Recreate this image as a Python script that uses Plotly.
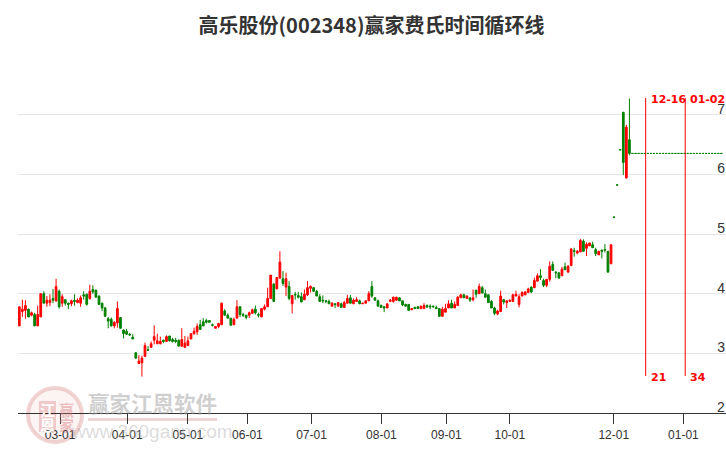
import plotly.graph_objects as go

title_text = "高乐股份(002348)赢家费氏时间循环线"
month_ticks = [13.3, 35.2, 55.0, 74.4, 95.3, 118.1, 139.3, 160.0, 193.9, 216.6]
month_labels = ["03-01", "04-01", "05-01", "06-01", "07-01", "08-01", "09-01", "10-01", "12-01", "01-01"]
price_ticks = [2, 3, 4, 5, 6, 7, 8]
price_labels = ["", "3", "4", "5", "6", "7", ""]
bottom_price_label = "2"

directions = ("RRRGRGRRGR" "RGRGRGGRGR" "RGGRGGGGGG" "GRRGGGGGGR" "RRGRRRRGRG" "GGGRRRRRRG" "GGGGRRRGGG"
              "RRGGGRRGGR" "RRRGRRGRGR" "GGGRRRGGGG" "GGRGRGRRGR" "RGRRRGGGGG" "RRRRGGGGRG" "GRRGGGGGRR"
              "RGRRRGRGRG" "RGGGGGRRGR" "RRRRRRRGRR" "GGRRGGGRGR" "RGRRGRRGGR" "GGGRGGGGRG")

highs = [3.78,3.90,3.89,3.75,3.70,3.68,3.80,4.00,4.04,3.96,
         3.99,4.08,4.25,4.07,3.99,3.90,3.85,3.90,3.99,3.92,
         3.97,4.04,4.00,4.15,4.14,4.06,3.97,3.85,3.78,3.61,
         3.60,3.54,3.87,3.60,3.40,3.41,3.34,3.32,3.02,2.97,
         2.96,3.18,3.12,3.20,3.47,3.33,3.28,3.23,3.30,3.29,
         3.26,3.26,3.23,3.42,3.29,3.28,3.33,3.43,3.50,3.56,
         3.59,3.58,3.55,3.50,3.45,3.51,3.85,3.74,3.67,3.59,
         3.60,3.89,3.79,3.68,3.64,3.70,3.75,3.80,3.68,3.75,
         3.82,4.10,4.31,4.18,4.27,4.71,4.38,4.35,4.21,3.98,
         4.03,4.03,4.02,4.07,4.21,4.14,4.11,4.06,3.99,3.97,
         3.89,3.90,3.86,3.84,3.85,3.85,3.88,3.98,3.98,3.92,
         3.94,3.90,3.84,3.89,4.04,4.21,3.94,3.90,3.82,3.79,
         3.83,3.91,3.95,3.95,3.94,3.88,3.83,3.82,3.75,3.78,
         3.79,3.80,3.84,3.82,3.82,3.80,3.80,3.75,3.78,3.83,
         3.89,3.90,3.87,3.96,4.00,4.00,3.97,3.93,4.07,4.06,
         4.17,4.13,4.07,3.99,3.89,3.78,3.73,4.05,3.90,3.89,
         3.90,4.00,4.05,3.99,4.04,4.04,4.10,4.12,4.27,4.34,
         4.41,4.25,4.24,4.54,4.54,4.38,4.35,4.45,4.52,4.48,
         4.76,4.77,4.73,4.92,4.91,4.86,4.85,4.87,4.77,4.72,
         4.74,4.83,4.71,4.82,5.29,5.83,6.42,7.04,6.83,7.27]

body_tops = [3.78,3.74,3.80,3.74,3.68,3.65,3.65,4.00,4.00,3.89,
             3.89,3.92,4.12,4.04,3.95,3.90,3.84,3.88,3.89,3.89,
             3.93,3.98,3.99,4.04,4.07,4.06,3.96,3.84,3.76,3.58,
             3.57,3.52,3.75,3.60,3.39,3.37,3.32,3.27,3.01,2.87,
             2.92,3.13,3.06,3.16,3.28,3.21,3.20,3.22,3.28,3.29,
             3.23,3.22,3.22,3.23,3.17,3.21,3.33,3.37,3.45,3.48,
             3.53,3.55,3.55,3.48,3.45,3.50,3.84,3.71,3.64,3.59,
             3.57,3.78,3.78,3.65,3.64,3.68,3.73,3.74,3.65,3.75,
             3.78,3.92,4.31,4.16,4.27,4.53,4.25,4.25,4.12,3.97,
             3.99,3.97,3.95,3.99,4.10,4.12,4.10,4.04,3.95,3.89,
             3.88,3.87,3.84,3.83,3.85,3.83,3.85,3.92,3.93,3.89,
             3.90,3.88,3.84,3.88,4.00,4.12,3.93,3.88,3.80,3.78,
             3.83,3.89,3.94,3.94,3.93,3.88,3.82,3.82,3.75,3.77,
             3.78,3.79,3.80,3.80,3.79,3.79,3.77,3.75,3.74,3.75,
             3.83,3.84,3.82,3.94,3.98,3.98,3.96,3.93,3.93,4.06,
             4.12,4.10,4.00,3.98,3.87,3.76,3.71,3.96,3.90,3.88,
             3.89,3.98,3.99,3.95,4.02,4.03,4.08,4.11,4.22,4.30,
             4.30,4.22,4.24,4.46,4.49,4.36,4.35,4.41,4.45,4.46,
             4.75,4.72,4.71,4.89,4.88,4.83,4.85,4.82,4.74,4.71,
             4.73,4.74,4.71,4.82,5.285,5.825,6.415,7.04,6.79,6.58]

body_bottoms = [3.46,3.70,3.72,3.61,3.64,3.46,3.46,3.61,3.84,3.84,
                3.85,3.89,3.88,3.78,3.84,3.84,3.82,3.83,3.87,3.85,
                3.84,3.96,3.82,3.92,4.03,3.94,3.82,3.76,3.62,3.54,
                3.46,3.46,3.51,3.42,3.33,3.32,3.31,3.24,2.92,2.83,
                2.84,2.95,3.05,3.10,3.22,3.16,3.16,3.20,3.20,3.21,
                3.20,3.20,3.12,3.12,3.10,3.13,3.24,3.33,3.36,3.40,
                3.46,3.52,3.52,3.47,3.42,3.45,3.48,3.64,3.59,3.47,
                3.48,3.59,3.65,3.64,3.60,3.64,3.67,3.68,3.64,3.61,
                3.74,3.78,3.92,3.87,4.08,4.26,4.17,4.11,3.92,3.83,
                3.98,3.94,3.86,3.90,3.98,4.09,4.04,3.96,3.87,3.88,
                3.87,3.83,3.79,3.82,3.79,3.77,3.77,3.84,3.84,3.83,
                3.87,3.83,3.83,3.84,3.88,3.96,3.89,3.79,3.77,3.76,
                3.76,3.87,3.87,3.89,3.88,3.81,3.79,3.72,3.73,3.75,
                3.75,3.75,3.75,3.78,3.78,3.78,3.75,3.62,3.62,3.69,
                3.76,3.76,3.76,3.80,3.93,3.93,3.92,3.89,3.90,3.99,
                4.00,4.01,3.94,3.85,3.76,3.67,3.66,3.70,3.86,3.85,
                3.87,3.87,3.96,3.82,3.96,3.98,4.02,4.03,4.10,4.21,
                4.27,4.14,4.14,4.24,4.39,4.35,4.26,4.30,4.40,4.36,
                4.47,4.71,4.68,4.70,4.71,4.76,4.80,4.77,4.67,4.65,
                4.71,4.73,4.36,4.50,5.28,5.82,6.41,6.20,5.94,6.35]

lows = [3.46,3.61,3.58,3.61,3.62,3.46,3.46,3.61,3.84,3.78,
        3.79,3.84,3.86,3.75,3.78,3.80,3.74,3.79,3.80,3.84,
        3.78,3.90,3.80,3.90,4.00,3.94,3.82,3.71,3.62,3.42,
        3.45,3.42,3.43,3.42,3.25,3.31,3.29,3.24,2.91,2.82,
        2.61,2.95,3.05,3.10,3.15,3.16,3.15,3.17,3.19,3.20,
        3.18,3.17,3.12,3.11,3.10,3.13,3.24,3.31,3.31,3.40,
        3.46,3.50,3.52,3.45,3.42,3.42,3.48,3.64,3.59,3.47,
        3.47,3.59,3.61,3.61,3.57,3.59,3.67,3.65,3.60,3.61,
        3.72,3.78,3.92,3.87,4.08,4.26,4.13,3.96,3.89,3.67,
        3.90,3.92,3.86,3.89,3.96,4.02,4.04,3.96,3.87,3.84,
        3.84,3.83,3.79,3.76,3.79,3.76,3.77,3.84,3.84,3.83,
        3.87,3.83,3.83,3.84,3.88,3.93,3.89,3.79,3.77,3.69,
        3.76,3.87,3.85,3.89,3.88,3.79,3.79,3.72,3.73,3.74,
        3.75,3.75,3.75,3.76,3.74,3.77,3.74,3.62,3.62,3.69,
        3.76,3.76,3.76,3.80,3.93,3.93,3.92,3.86,3.87,3.93,
        4.00,4.01,3.94,3.85,3.76,3.64,3.64,3.70,3.82,3.76,
        3.87,3.87,3.96,3.77,3.96,3.98,4.02,4.01,4.10,4.21,
        4.23,4.11,4.11,4.20,4.39,4.26,4.26,4.30,4.40,4.36,
        4.47,4.62,4.66,4.70,4.71,4.63,4.80,4.77,4.63,4.65,
        4.59,4.69,4.36,4.50,5.28,5.82,6.41,5.99,5.93,6.32]

last_close = [6.35] * 30

cycle_x = [204.3, 217.2]
cycle_dates = ["12-16", "01-02"]
cycle_counts = ["21", "34"]
cycle_top = 7.28
cycle_bottom = 2.62

RED = "#ff0000"
GREEN = "#008000"

n = len(highs)
assert len(body_tops) == n and len(body_bottoms) == n and len(lows) == n and len(directions) == n
opens = [b if d == "R" else t for d, t, b in zip(directions, body_tops, body_bottoms)] + last_close
closes = [t if d == "R" else b for d, t, b in zip(directions, body_tops, body_bottoms)] + last_close
xs = list(range(n + len(last_close)))

fig = go.Figure()
fig.add_trace(go.Candlestick(
    x=xs, open=opens, high=highs + last_close, low=lows + last_close, close=closes,
    increasing=dict(line=dict(color=RED, width=1), fillcolor=RED),
    decreasing=dict(line=dict(color=GREEN, width=1), fillcolor=GREEN),
    hoverinfo="skip", showlegend=False,
))
for cx in cycle_x:
    fig.add_trace(go.Scatter(x=[cx, cx], y=[cycle_top, cycle_bottom], mode="lines",
                             line=dict(color=RED, width=1), hoverinfo="skip", showlegend=False))

L, T, W, H = 18, 55, 708, 358


def px_x(p):
    return (p - L) / W


def px_y(p):
    return 1 - (p - T) / H


def label(x, y, text, **font):
    return dict(x=px_x(x), y=px_y(y), xref="paper", yref="paper", text=text, showarrow=False,
                xanchor="center", yanchor="middle", font=font)


annotations = []
for cx, date, count in zip(cycle_x, cycle_dates, cycle_counts):
    annotations.append(dict(x=cx, y=7.25, xref="x", yref="y", text=date, showarrow=False, xanchor="left",
                            yanchor="middle", xshift=3, font=dict(family="DejaVu Sans", size=11, color=RED, weight="bold")))
    annotations.append(dict(x=cx, y=2.59, xref="x", yref="y", text=count, showarrow=False, xanchor="left",
                            yanchor="middle", xshift=3, font=dict(family="DejaVu Sans", size=11, color=RED, weight="bold")))

annotations.append(label(720.8, 406.5, bottom_price_label, family="Liberation Sans", size=14, color="#333333"))

# watermark
annotations.append(label(152.5, 402, "赢家江恩软件", family="Noto Sans CJK SC", size=21.5,
                         color="rgba(160,160,160,0.5)", weight="bold"))
annotations.append(label(152, 431, "www.360gann.com", family="Liberation Sans", size=19, color="rgba(175,175,175,0.45)"))
annotations.append(label(47, 409, "江", family="Noto Sans CJK SC", size=15, color="white", weight="bold"))
annotations.append(label(66, 409, "赢", family="Noto Sans CJK SC", size=15, color="rgba(215,120,120,0.45)", weight="bold"))
annotations.append(label(47, 424, "恩", family="Noto Sans CJK SC", size=15, color="white", weight="bold"))
annotations.append(label(66, 424, "家", family="Noto Sans CJK SC", size=15, color="rgba(215,120,120,0.45)", weight="bold"))

shapes = [
    dict(type="circle", xref="paper", yref="paper", x0=px_x(28), x1=px_x(82), y0=px_y(442), y1=px_y(388),
         line=dict(color="rgba(225,160,160,0.45)", width=4), fillcolor="rgba(250,232,232,0.5)", layer="below"),
    dict(type="rect", xref="paper", yref="paper", x0=px_x(39), x1=px_x(56), y0=px_y(432), y1=px_y(401),
         fillcolor="rgba(225,160,160,0.5)", line=dict(width=0), layer="below"),
    dict(type="rect", xref="paper", yref="paper", x0=px_x(88), x1=px_x(217), y0=px_y(421), y1=px_y(418),
         fillcolor="rgba(225,170,170,0.5)", line=dict(width=0), layer="below"),
]

fig.update_layout(
    width=726, height=450, autosize=False,
    margin=dict(l=L, r=0, t=T, b=450 - T - H, pad=0),
    paper_bgcolor="white", plot_bgcolor="white", showlegend=False, hovermode=False, dragmode=False,
    boxgap=0.2,
    title=dict(text=title_text, x=371.5 / 726, xanchor="center", y=1 - 26 / 450, yanchor="middle",
               font=dict(family="Noto Sans CJK SC", size=20, color="#333333", weight="bold")),
    xaxis=dict(range=[-0.42, 230.5], tickmode="array", tickvals=month_ticks, ticktext=month_labels,
               rangeslider=dict(visible=False), showgrid=False, zeroline=False, showline=True,
               linecolor="#333333", linewidth=1, ticks="outside", ticklen=10, tickwidth=1, tickcolor="#333333",
               ticklabelstandoff=1, tickfont=dict(family="Liberation Sans", size=12, color="#333333")),
    yaxis=dict(range=[2, 8], side="right", tickmode="array", tickvals=price_ticks, ticktext=price_labels,
               ticklabelposition="inside", ticklabelshift=-6, ticklabelstandoff=-2, showgrid=True,
               gridcolor="#e6e6e6", gridwidth=1, zeroline=False, showline=False, ticks="",
               tickfont=dict(family="Liberation Sans", size=14, color="#333333")),
    annotations=annotations, shapes=shapes,
)

fig.write_html("out.html", config={"displayModeBar": False},
               post_script="document.body.style.margin='0';document.documentElement.style.overflow='hidden';")
